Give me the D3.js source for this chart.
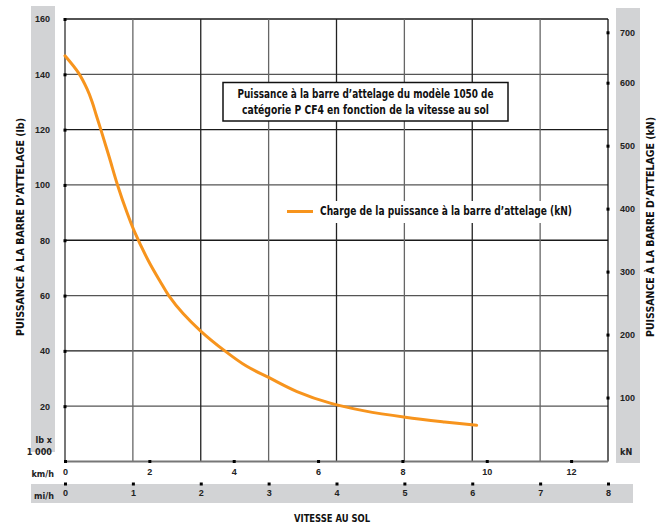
<!DOCTYPE html>
<html>
<head>
<meta charset="utf-8">
<script src="https://cdn.jsdelivr.net/npm/d3@7"></script>
<style>
    body { margin: 0; background: #fff; }
    svg { display: block; font-family: "Liberation Sans Narrow", "DejaVu Sans Condensed", "Roboto Condensed", sans-serif; font-weight: bold; }
</style>
</head>
<body>
<div id="chart"></div>
<script>
// courbe : vitesse (km/h) et effort (lb x 1000)
const speedKmh = [0, 0.32, 0.52, 0.64, 0.74, 0.85, 1.05, 1.245, 1.47, 1.65, 1.98, 2.26, 2.46, 2.8, 3.23, 3.79, 4.3, 4.84, 5.5, 6.31, 7.1, 8.07, 9.0, 9.76];
const pullKlb = [146.7, 140.5, 134.8, 130.2, 125.3, 120, 110, 100, 90, 83, 72.5, 65, 60, 53.5, 47, 40, 34.5, 30.3, 25.3, 21, 18.3, 16.0, 14.3, 13.1];

const lbTicks = [20, 40, 60, 80, 100, 120, 140, 160];
const knTicks = [100, 200, 300, 400, 500, 600, 700];
const kmhTicks = [0, 2, 4, 6, 8, 10, 12];
const mphTicks = [0, 1, 2, 3, 4, 5, 6, 7, 8];

const titleLines = ["Puissance à la barre d’attelage du modèle 1050 de", "catégorie P CF4 en fonction de la vitesse au sol"];
const legendLabel = "Charge de la puissance à la barre d’attelage (kN)";
const yTitle = "PUISSANCE À LA BARRE D’ATTELAGE";

const width = 665, height = 524;
const plot = { left: 65, right: 608, top: 19, bottom: 461.5 };
const orange = "#f7941d";
const band = "#d2d3d5";

const svg = d3.select("#chart").append("svg")
    .attr("width", width)
    .attr("height", height)
    .attr("viewBox", `0 0 ${width} ${height}`)

const mph = d3.scaleLinear().domain([0, 8]).range([plot.left, plot.right]);
const kmh = d3.scaleLinear().domain([0, 8 * 1.609344]).range([plot.left, plot.right]);
const yLb = d3.scaleLinear().domain([0, 160]).range([plot.bottom, plot.top]);
// les graduations kN de l'original ne sont pas tout à fait régulières en haut
const yKn = d3.scaleLinear().domain([0, 600, 700]).range([460.5, 82.7, 32.3]);

// bandes grises
svg.append("rect").attr("x", 31).attr("y", 6).attr("width", 24).attr("height", 446).attr("fill", band);
svg.append("rect").attr("x", 616).attr("y", 8).attr("width", 24).attr("height", 455).attr("fill", band);
svg.append("rect").attr("x", 31).attr("y", 484).attr("width", 602).attr("height", 19).attr("fill", band);

// grille
svg.append("g").selectAll("line")
    .data(lbTicks)
    .enter().append("line")
    .attr("x1", plot.left).attr("x2", plot.right)
    .attr("y1", d => yLb(d)).attr("y2", d => yLb(d))
    .attr("stroke", (d, i) => i % 2 ? "#1a1a1a" : "#555")
    .attr("stroke-width", 1.3)

svg.append("g").selectAll("line")
    .data(mphTicks.slice(1))
    .enter().append("line")
    .attr("x1", d => mph(d)).attr("x2", d => mph(d))
    .attr("y1", plot.top).attr("y2", plot.bottom)
    .attr("stroke", d => d === 8 ? "#111" : (d % 2 ? "#666" : "#222"))
    .attr("stroke-width", 1.3)

// cadre gauche et bas
svg.append("line").attr("x1", plot.left).attr("x2", plot.left).attr("y1", plot.top).attr("y2", plot.bottom)
    .attr("stroke", "#777").attr("stroke-width", 2);
svg.append("line").attr("x1", plot.left).attr("x2", plot.right).attr("y1", plot.bottom).attr("y2", plot.bottom)
    .attr("stroke", "#777").attr("stroke-width", 2);

const tickFont = 9;

function styleAxis(g) {
    g.select(".domain").remove();
    g.selectAll("text").attr("font-size", tickFont).attr("font-family", null).attr("fill", "#222");
    g.selectAll(".tick").append("rect").attr("x", -1.5).attr("y", -1.5).attr("width", 3).attr("height", 3).attr("fill", "#000");
}

// axes
svg.append("g")
    .attr("transform", `translate(${plot.left},0)`)
    .call(d3.axisLeft(yLb).tickValues(lbTicks).tickSize(0).tickPadding(15))
    .call(styleAxis)

svg.append("g")
    .attr("transform", `translate(${plot.right},0)`)
    .call(d3.axisRight(yKn).tickValues(knTicks).tickSize(0).tickPadding(12))
    .call(styleAxis)

svg.append("g")
    .attr("transform", `translate(0,${plot.bottom})`)
    .call(d3.axisBottom(kmh).tickValues(kmhTicks).tickSize(0).tickPadding(7))
    .call(styleAxis)

svg.append("g")
    .attr("transform", `translate(0,484)`)
    .call(d3.axisBottom(mph).tickValues(mphTicks).tickSize(0).tickPadding(6))
    .call(styleAxis)

// unités
const unit = (x, y, t, anchor) => svg.append("text")
    .attr("x", x).attr("y", y).attr("dy", "0.35em")
    .attr("text-anchor", anchor).attr("font-size", tickFont).attr("fill", "#222")
    .text(t);
unit(52, 440, "lb x", "end");
unit(52, 452, "1 000", "end");
unit(620, 452, "kN", "start");
unit(54, 474, "km/h", "end");
unit(54, 495.5, "mi/h", "end");

// titres des axes
svg.append("text")
    .attr("transform", "translate(20,227) rotate(-90)")
    .attr("dy", "0.35em").attr("text-anchor", "middle").attr("font-size", 11).attr("fill", "#111")
    .attr("textLength", 218).attr("lengthAdjust", "spacingAndGlyphs")
    .text(yTitle + " (lb)");
svg.append("text")
    .attr("transform", "translate(650,227) rotate(-90)")
    .attr("dy", "0.35em").attr("text-anchor", "middle").attr("font-size", 11).attr("fill", "#111")
    .attr("textLength", 220).attr("lengthAdjust", "spacingAndGlyphs")
    .text(yTitle + " (kN)");
svg.append("text")
    .attr("x", 332).attr("y", 518).attr("dy", "0.35em")
    .attr("text-anchor", "middle").attr("font-size", 11).attr("fill", "#111")
    .attr("textLength", 76).attr("lengthAdjust", "spacingAndGlyphs")
    .text("VITESSE AU SOL");

// courbe
const line = d3.line()
    .x((d, i) => kmh(speedKmh[i]))
    .y(d => yLb(d))
    .curve(d3.curveCatmullRom.alpha(0.5))

svg.append("path")
    .attr("d", line(pullKlb))
    .attr("fill", "none")
    .attr("stroke", orange)
    .attr("stroke-width", 3)
    .attr("stroke-linecap", "round")

// encadré du titre
svg.append("rect")
    .attr("x", 223).attr("y", 82.5).attr("width", 285).attr("height", 38.5)
    .attr("fill", "#fff").attr("stroke", "#111").attr("stroke-width", 1.5);
svg.append("g").selectAll("text")
    .data(titleLines)
    .enter().append("text")
    .attr("x", 365.5).attr("y", (d, i) => 94 + i * 16).attr("dy", "0.35em")
    .attr("text-anchor", "middle").attr("font-size", 12.5).attr("fill", "#111")
    .attr("textLength", (d, i) => i ? 247 : 256).attr("lengthAdjust", "spacingAndGlyphs")
    .text(d => d);

// légende
svg.append("rect").attr("x", 281).attr("y", 201).attr("width", 298).attr("height", 22).attr("fill", "#fff");
svg.append("line").attr("x1", 287).attr("x2", 313).attr("y1", 211.5).attr("y2", 211.5)
    .attr("stroke", orange).attr("stroke-width", 3);
svg.append("text")
    .attr("x", 320).attr("y", 211).attr("dy", "0.35em")
    .attr("font-size", 11.5).attr("fill", "#111")
    .attr("textLength", 252).attr("lengthAdjust", "spacingAndGlyphs")
    .text(legendLabel);
</script>
</body>
</html>
